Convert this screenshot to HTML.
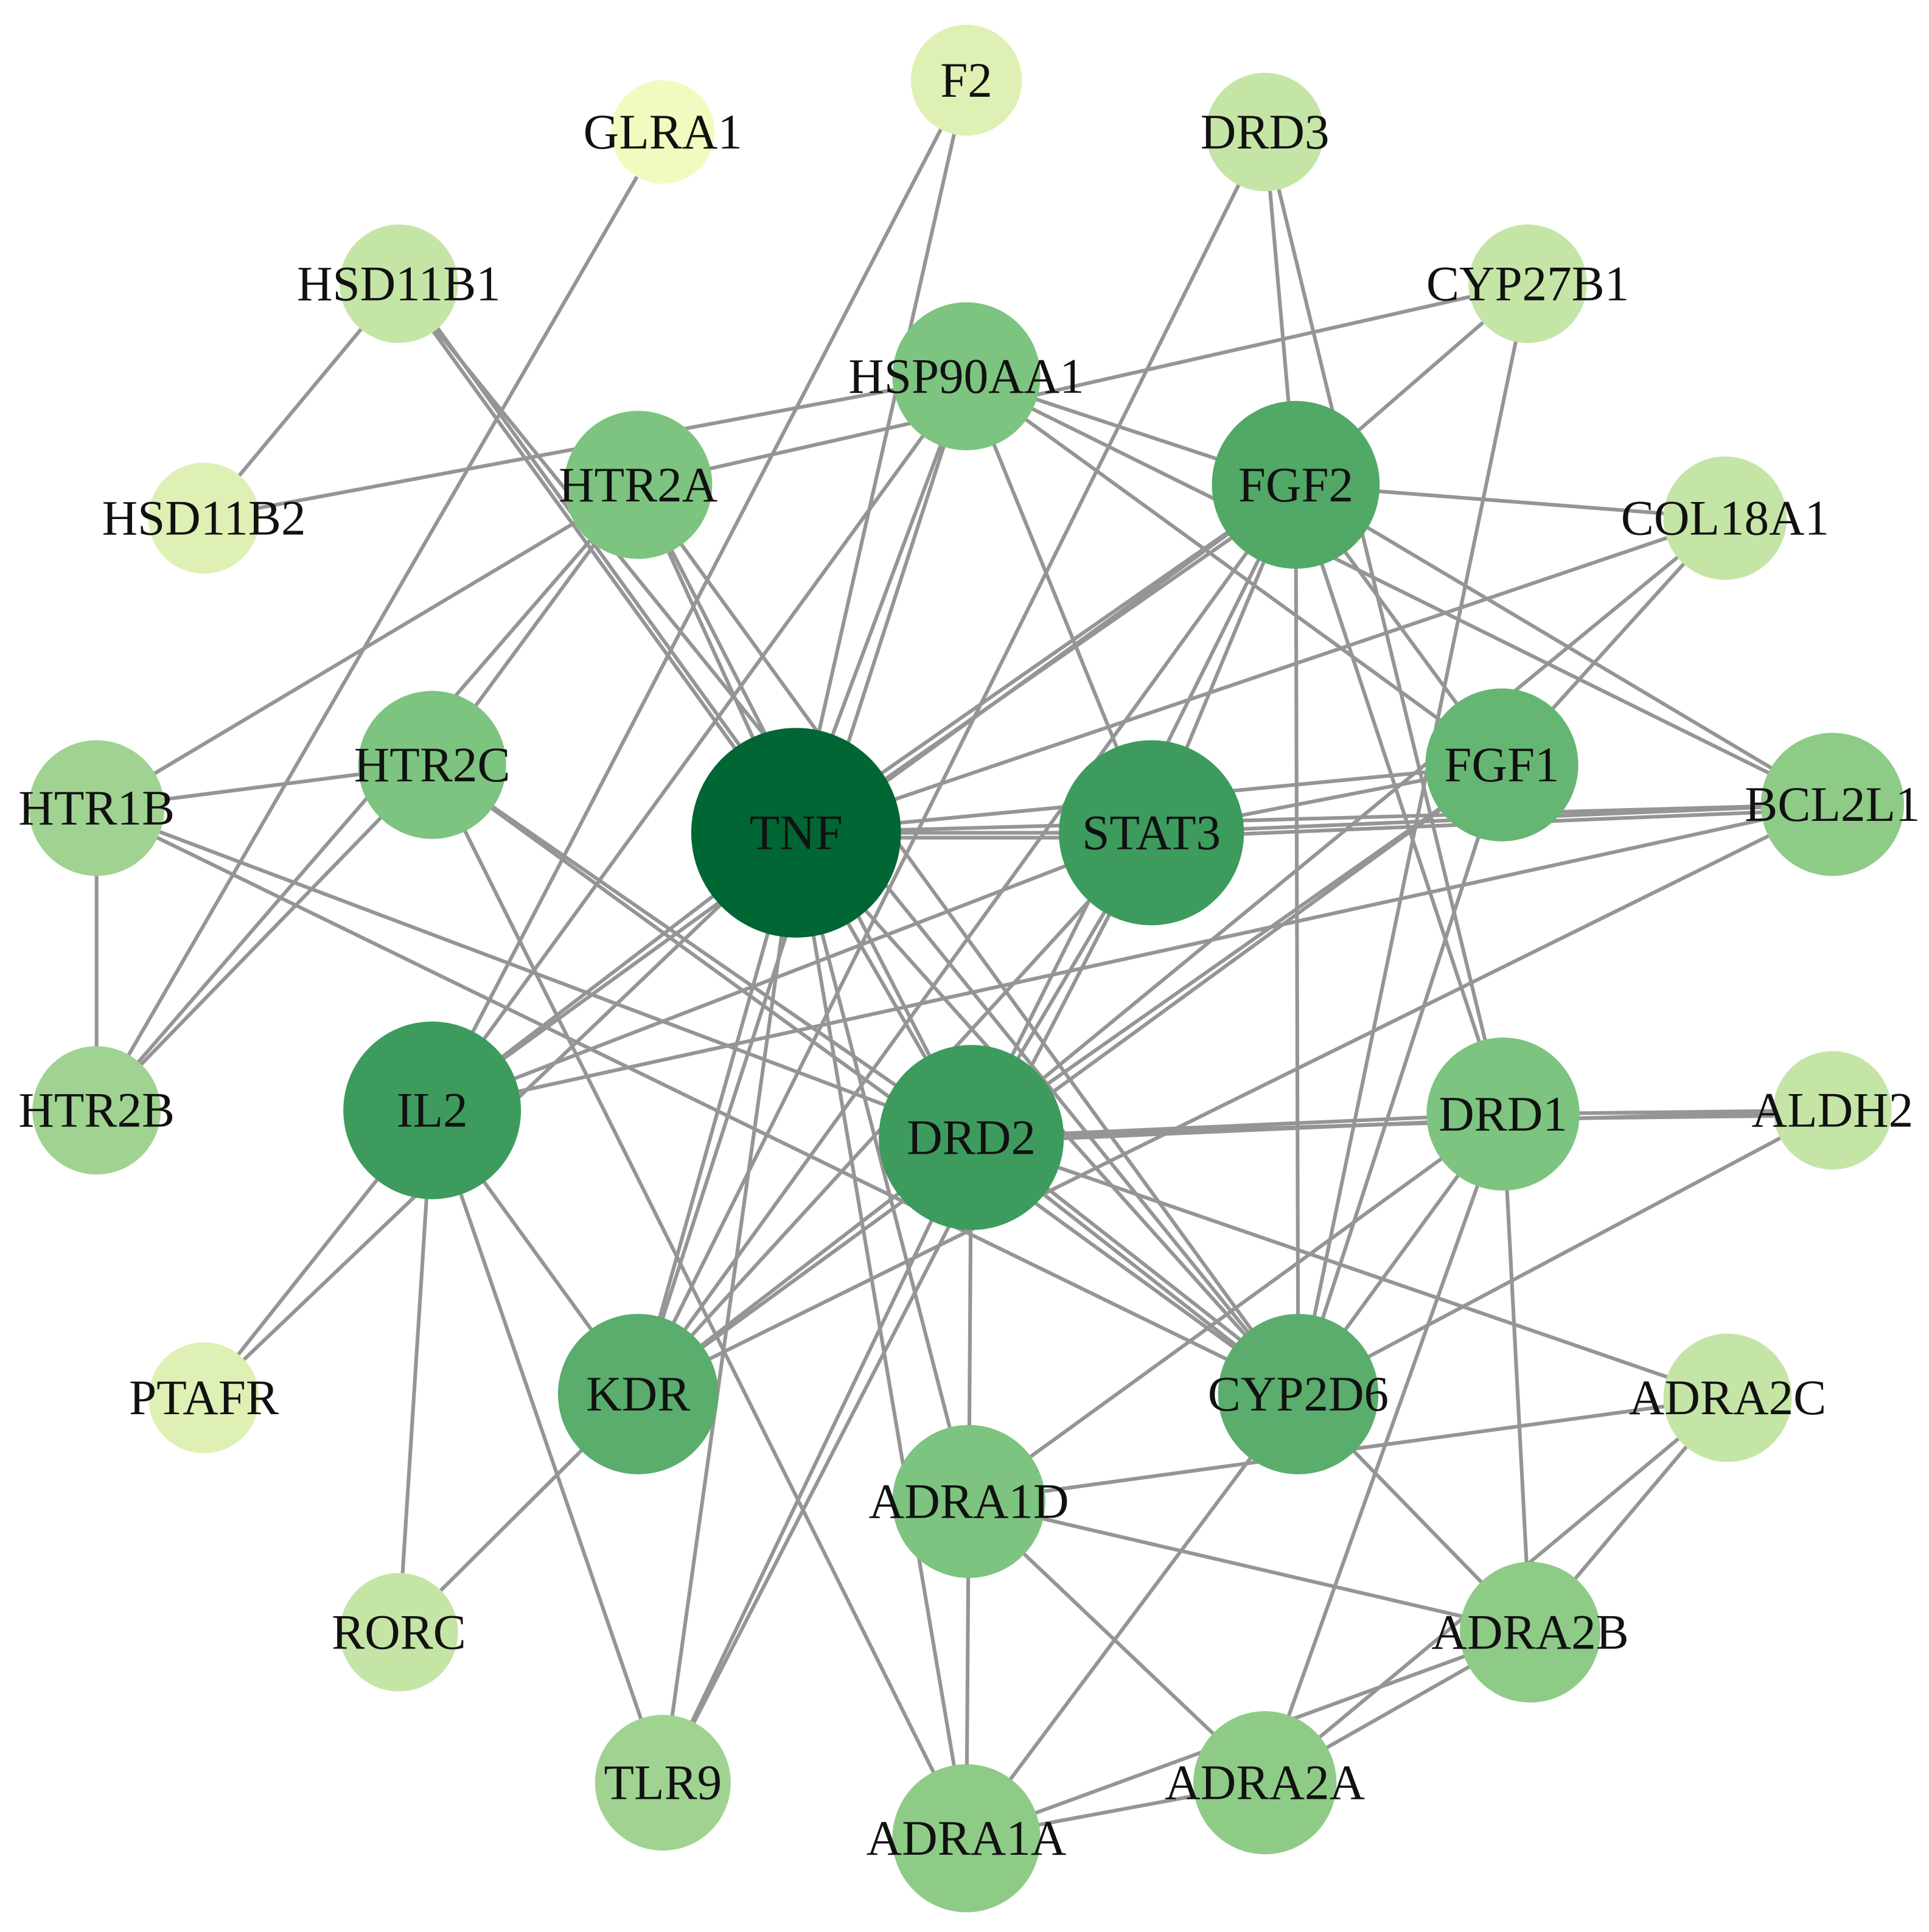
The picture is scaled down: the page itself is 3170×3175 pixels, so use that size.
<!DOCTYPE html>
<html><head><meta charset="utf-8"><style>html,body{margin:0;padding:0;background:#fff}svg{display:block}</style></head>
<body>
<svg width="3170" height="3175" viewBox="0 0 1563 1566" xmlns="http://www.w3.org/2000/svg">
<g stroke="#959595" stroke-width="3" fill="none">
<line x1="537" y1="107" x2="78" y2="900"/>
<line x1="783" y1="65" x2="645" y2="675"/>
<line x1="783" y1="65" x2="350" y2="900"/>
<line x1="1025" y1="107" x2="1050" y2="393"/>
<line x1="1025" y1="107" x2="1218" y2="903"/>
<line x1="1025" y1="107" x2="517" y2="1130"/>
<line x1="323" y1="230" x2="165" y2="420"/>
<line x1="323" y1="230" x2="645" y2="675"/>
<line x1="327" y1="228" x2="649" y2="673"/>
<line x1="323" y1="230" x2="1052" y2="1130"/>
<line x1="1238" y1="230" x2="517" y2="393"/>
<line x1="1238" y1="230" x2="1050" y2="393"/>
<line x1="1238" y1="230" x2="1052" y2="1130"/>
<line x1="165" y1="420" x2="783" y2="305"/>
<line x1="783" y1="305" x2="645" y2="675"/>
<line x1="783" y1="305" x2="350" y2="900"/>
<line x1="783" y1="305" x2="933" y2="675"/>
<line x1="783" y1="305" x2="1217" y2="620"/>
<line x1="783" y1="305" x2="1485" y2="652"/>
<line x1="783" y1="305" x2="1050" y2="393"/>
<line x1="783" y1="305" x2="517" y2="1130"/>
<line x1="517" y1="393" x2="78" y2="655"/>
<line x1="517" y1="393" x2="350" y2="620"/>
<line x1="517" y1="393" x2="78" y2="900"/>
<line x1="517" y1="393" x2="645" y2="675"/>
<line x1="517" y1="393" x2="1052" y2="1130"/>
<line x1="517" y1="393" x2="787" y2="922"/>
<line x1="1050" y1="393" x2="645" y2="675"/>
<line x1="1054" y1="397" x2="649" y2="679"/>
<line x1="1050" y1="393" x2="933" y2="675"/>
<line x1="1050" y1="393" x2="350" y2="900"/>
<line x1="1050" y1="393" x2="517" y2="1130"/>
<line x1="1050" y1="393" x2="1398" y2="420"/>
<line x1="1050" y1="393" x2="1485" y2="652"/>
<line x1="1050" y1="393" x2="1218" y2="903"/>
<line x1="1050" y1="393" x2="1052" y2="1130"/>
<line x1="1050" y1="393" x2="1217" y2="620"/>
<line x1="1050" y1="393" x2="787" y2="922"/>
<line x1="1398" y1="420" x2="645" y2="675"/>
<line x1="1398" y1="420" x2="1217" y2="620"/>
<line x1="1398" y1="420" x2="787" y2="922"/>
<line x1="350" y1="620" x2="78" y2="655"/>
<line x1="350" y1="620" x2="78" y2="900"/>
<line x1="350" y1="620" x2="787" y2="922"/>
<line x1="350" y1="620" x2="1052" y2="1130"/>
<line x1="350" y1="620" x2="783" y2="1490"/>
<line x1="78" y1="655" x2="78" y2="900"/>
<line x1="78" y1="655" x2="787" y2="922"/>
<line x1="78" y1="655" x2="1052" y2="1130"/>
<line x1="645" y1="675" x2="933" y2="675"/>
<line x1="645" y1="679" x2="933" y2="679"/>
<line x1="645" y1="675" x2="1217" y2="620"/>
<line x1="645" y1="675" x2="1485" y2="652"/>
<line x1="645" y1="675" x2="350" y2="900"/>
<line x1="645" y1="675" x2="517" y2="1130"/>
<line x1="645" y1="675" x2="787" y2="922"/>
<line x1="645" y1="675" x2="537" y2="1445"/>
<line x1="645" y1="675" x2="783" y2="1490"/>
<line x1="645" y1="675" x2="1052" y2="1130"/>
<line x1="645" y1="675" x2="165" y2="1133"/>
<line x1="645" y1="675" x2="785" y2="1217"/>
<line x1="933" y1="675" x2="1217" y2="620"/>
<line x1="933" y1="675" x2="1485" y2="652"/>
<line x1="933" y1="679" x2="1485" y2="656"/>
<line x1="933" y1="675" x2="350" y2="900"/>
<line x1="933" y1="675" x2="517" y2="1130"/>
<line x1="933" y1="675" x2="537" y2="1445"/>
<line x1="933" y1="675" x2="787" y2="922"/>
<line x1="1485" y1="652" x2="350" y2="900"/>
<line x1="1485" y1="652" x2="517" y2="1130"/>
<line x1="1217" y1="620" x2="517" y2="1130"/>
<line x1="1217" y1="620" x2="787" y2="922"/>
<line x1="1217" y1="620" x2="1052" y2="1130"/>
<line x1="350" y1="900" x2="165" y2="1133"/>
<line x1="350" y1="900" x2="323" y2="1323"/>
<line x1="350" y1="900" x2="537" y2="1445"/>
<line x1="350" y1="900" x2="517" y2="1130"/>
<line x1="787" y1="922" x2="1218" y2="903"/>
<line x1="787" y1="926" x2="1218" y2="907"/>
<line x1="787" y1="922" x2="1485" y2="900"/>
<line x1="787" y1="922" x2="1052" y2="1130"/>
<line x1="791" y1="918" x2="1056" y2="1126"/>
<line x1="787" y1="922" x2="785" y2="1217"/>
<line x1="787" y1="922" x2="1400" y2="1133"/>
<line x1="787" y1="922" x2="537" y2="1445"/>
<line x1="787" y1="922" x2="517" y2="1130"/>
<line x1="1218" y1="903" x2="1485" y2="900"/>
<line x1="1218" y1="907" x2="1485" y2="904"/>
<line x1="1218" y1="903" x2="1052" y2="1130"/>
<line x1="1218" y1="903" x2="785" y2="1217"/>
<line x1="1218" y1="903" x2="1240" y2="1323"/>
<line x1="1218" y1="903" x2="1025" y2="1445"/>
<line x1="1485" y1="900" x2="1052" y2="1130"/>
<line x1="517" y1="1130" x2="323" y2="1323"/>
<line x1="1052" y1="1130" x2="783" y2="1490"/>
<line x1="1052" y1="1130" x2="1240" y2="1323"/>
<line x1="1400" y1="1133" x2="785" y2="1217"/>
<line x1="1400" y1="1133" x2="1240" y2="1323"/>
<line x1="1400" y1="1133" x2="1025" y2="1445"/>
<line x1="785" y1="1217" x2="783" y2="1490"/>
<line x1="785" y1="1217" x2="1025" y2="1445"/>
<line x1="785" y1="1217" x2="1240" y2="1323"/>
<line x1="1240" y1="1323" x2="1025" y2="1445"/>
<line x1="1240" y1="1323" x2="783" y2="1490"/>
<line x1="1025" y1="1445" x2="783" y2="1490"/>
</g>
<g stroke="none">
<circle cx="783" cy="65" r="45" fill="#dff0b5"/>
<circle cx="537" cy="107" r="42" fill="#f2fabf"/>
<circle cx="1025" cy="107" r="48" fill="#c5e5a6"/>
<circle cx="323" cy="230" r="48" fill="#c5e5a6"/>
<circle cx="1238" cy="230" r="48" fill="#c5e5a6"/>
<circle cx="165" cy="420" r="45" fill="#dff0b5"/>
<circle cx="1398" cy="420" r="50" fill="#c5e5a6"/>
<circle cx="783" cy="305" r="60" fill="#7cc47f"/>
<circle cx="517" cy="393" r="60" fill="#7cc47f"/>
<circle cx="1050" cy="393" r="68" fill="#52a866"/>
<circle cx="350" cy="620" r="60" fill="#7cc47f"/>
<circle cx="1217" cy="620" r="62" fill="#66b673"/>
<circle cx="78" cy="655" r="55" fill="#a0d391"/>
<circle cx="1485" cy="652" r="58" fill="#8ecb87"/>
<circle cx="645" cy="675" r="85" fill="#006633"/>
<circle cx="933" cy="675" r="75" fill="#3d9b5e"/>
<circle cx="78" cy="900" r="52" fill="#a0d391"/>
<circle cx="350" cy="900" r="72" fill="#3d9b5e"/>
<circle cx="787" cy="922" r="75" fill="#3d9b5e"/>
<circle cx="1218" cy="903" r="62" fill="#7cc47f"/>
<circle cx="1485" cy="900" r="48" fill="#c5e5a6"/>
<circle cx="165" cy="1133" r="45" fill="#dff0b5"/>
<circle cx="517" cy="1130" r="65" fill="#5aad6c"/>
<circle cx="1052" cy="1130" r="65" fill="#5aad6c"/>
<circle cx="1400" cy="1133" r="52" fill="#c5e5a6"/>
<circle cx="785" cy="1217" r="62" fill="#7cc47f"/>
<circle cx="323" cy="1323" r="48" fill="#c5e5a6"/>
<circle cx="1240" cy="1323" r="57" fill="#8ecb87"/>
<circle cx="537" cy="1445" r="55" fill="#a0d391"/>
<circle cx="1025" cy="1445" r="58" fill="#8ecb87"/>
<circle cx="783" cy="1490" r="60" fill="#8ecb87"/>
</g>
<g font-family="Liberation Serif, serif" font-size="40" fill="#111" text-anchor="middle" dominant-baseline="central">
<text x="783" y="65">F2</text>
<text x="537" y="107">GLRA1</text>
<text x="1025" y="107">DRD3</text>
<text x="323" y="230">HSD11B1</text>
<text x="1238" y="230">CYP27B1</text>
<text x="165" y="420">HSD11B2</text>
<text x="1398" y="420">COL18A1</text>
<text x="783" y="305">HSP90AA1</text>
<text x="517" y="393">HTR2A</text>
<text x="1050" y="393">FGF2</text>
<text x="350" y="620">HTR2C</text>
<text x="1217" y="620">FGF1</text>
<text x="78" y="655">HTR1B</text>
<text x="1485" y="652">BCL2L1</text>
<text x="645" y="675">TNF</text>
<text x="933" y="675">STAT3</text>
<text x="78" y="900">HTR2B</text>
<text x="350" y="900">IL2</text>
<text x="787" y="922">DRD2</text>
<text x="1218" y="903">DRD1</text>
<text x="1485" y="900">ALDH2</text>
<text x="165" y="1133">PTAFR</text>
<text x="517" y="1130">KDR</text>
<text x="1052" y="1130">CYP2D6</text>
<text x="1400" y="1133">ADRA2C</text>
<text x="785" y="1217">ADRA1D</text>
<text x="323" y="1323">RORC</text>
<text x="1240" y="1323">ADRA2B</text>
<text x="537" y="1445">TLR9</text>
<text x="1025" y="1445">ADRA2A</text>
<text x="783" y="1490">ADRA1A</text>
</g>
</svg>
</body></html>
